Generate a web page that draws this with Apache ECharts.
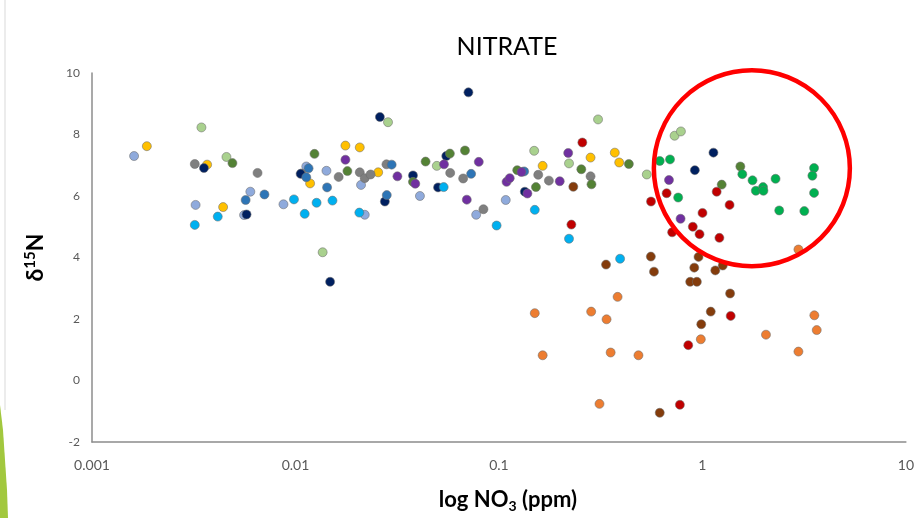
<!DOCTYPE html>
<html>
<head>
<meta charset="utf-8">
<script src="https://cdn.jsdelivr.net/npm/echarts@6/dist/echarts.min.js"></script>
<style>
  html, body { margin: 0; padding: 0; background: #fff; }
  #chart { width: 917px; height: 518px; }
</style>
</head>
<body>
<div id="chart"></div>
<script>
  // [NO3 ppm, d15N] per sample group
  const periwinkle = [[0.00161,7.30],[0.0060,6.14],[0.00323,5.71],[0.00559,5.38],[0.00873,5.73],[0.0113,6.96],[0.0142,6.82],[0.0210,6.36],[0.0219,5.39],[0.0409,6.00],[0.0773,5.39],[0.108,5.87]];
  const gold = [[0.00186,7.62],[0.00368,7.02],[0.00441,5.64],[0.0118,6.41],[0.0176,7.64],[0.0207,7.58],[0.0255,6.77],[0.164,6.98],[0.282,7.25],[0.371,7.41],[0.390,7.09]];
  const lightGreen = [[0.00345,8.23],[0.00458,7.27],[0.0136,4.17],[0.0285,8.40],[0.0495,6.98],[0.149,7.47],[0.221,7.06],[0.307,8.49],[0.533,6.70],[0.730,7.96],[0.784,8.10]];
  const gray = [[0.0032,7.04],[0.00651,6.75],[0.0107,6.73],[0.0163,6.62],[0.0207,6.77],[0.0219,6.58],[0.0234,6.70],[0.0280,7.03],[0.0576,6.75],[0.0667,6.57],[0.0839,5.57],[0.156,6.69],[0.176,6.50],[0.282,6.64]];
  const navy = [[0.00355,6.91],[0.00575,5.40],[0.0106,6.72],[0.0148,3.21],[0.0260,8.57],[0.0275,5.82],[0.0378,6.67],[0.0502,6.28],[0.0551,7.30],[0.0708,9.37],[0.134,6.14],[0.918,6.84],[1.133,7.41]];
  const oliveGreen = [[0.0049,7.07],[0.0124,7.37],[0.0180,6.81],[0.0378,6.46],[0.0436,7.12],[0.0574,7.38],[0.0681,7.48],[0.123,6.84],[0.152,6.29],[0.254,6.87],[0.285,6.38],[0.435,7.04],[1.244,6.37],[1.536,6.96]];
  const midBlue = [[0.00569,5.87],[0.00704,6.05],[0.0116,6.90],[0.0113,6.61],[0.0143,6.28],[0.0297,7.02],[0.0281,6.03],[0.0730,6.72],[0.133,6.80]];
  const cyan = [[0.0032,5.06],[0.00415,5.33],[0.00983,5.89],[0.0111,5.42],[0.0127,5.78],[0.0152,5.85],[0.0206,5.46],[0.0535,6.29],[0.0974,5.04],[0.150,5.55],[0.221,4.61],[0.394,3.96]];
  const purple = [[0.0176,7.18],[0.0317,6.64],[0.0388,6.40],[0.0537,7.03],[0.0695,5.88],[0.0796,7.11],[0.109,6.46],[0.113,6.58],[0.129,6.78],[0.138,6.08],[0.199,6.48],[0.219,7.40],[0.685,6.52],[0.781,5.26]];
  const darkRed = [[0.227,5.07],[0.257,7.74],[0.559,5.82],[0.667,6.09],[0.710,4.82],[0.897,5.00],[0.968,4.76],[1.001,5.45],[1.175,6.14],[1.212,4.64],[1.360,5.71],[1.377,2.10],[0.852,1.15],[0.775,-0.79]];
  const brown = [[0.232,6.30],[0.336,3.77],[0.558,4.03],[0.578,3.54],[0.957,4.02],[0.912,3.67],[1.157,3.58],[1.259,3.74],[0.871,3.21],[0.939,3.21],[1.368,2.83],[1.099,2.24],[0.987,1.83],[0.617,-1.05]];
  const orange = [[0.150,2.19],[0.164,0.82],[0.284,2.24],[0.338,1.99],[0.312,-0.76],[0.354,0.91],[0.383,2.72],[0.485,0.82],[0.982,1.34],[2.053,1.49],[2.964,4.26],[2.964,0.94],[3.549,2.12],[3.646,1.64]];
  const green = [[0.617,7.14],[0.693,7.19],[0.760,5.95],[1.571,6.71],[1.763,6.51],[1.986,6.29],[1.830,6.17],[1.995,6.17],[2.288,6.56],[2.385,5.53],[3.168,5.51],[3.538,6.91],[3.471,6.66],[3.538,6.10]];

  const xTicks = [0.001, 0.01, 0.1, 1, 10];
  const highlightCenter = [1.75, 6.9];

  const groups = [
    { name: 'periwinkle', data: periwinkle, color: '#8FAADC' },
    { name: 'gold', data: gold, color: '#FFC000' },
    { name: 'lightGreen', data: lightGreen, color: '#A9D18E' },
    { name: 'gray', data: gray, color: '#7F7F7F' },
    { name: 'navy', data: navy, color: '#002060' },
    { name: 'oliveGreen', data: oliveGreen, color: '#548235' },
    { name: 'midBlue', data: midBlue, color: '#2E75B6' },
    { name: 'cyan', data: cyan, color: '#00B0F0' },
    { name: 'purple', data: purple, color: '#7030A0' },
    { name: 'darkRed', data: darkRed, color: '#C00000' },
    { name: 'brown', data: brown, color: '#843C0C' },
    { name: 'orange', data: orange, color: '#ED7D31' },
    { name: 'green', data: green, color: '#00B050' },
  ];

  const chart = echarts.init(document.getElementById('chart'));

  const option = {
    animation: false,
    title: {
      text: 'NITRATE',
      left: 502,
      top: 29,
      textAlign: 'center',
      textStyle: { fontFamily: 'Lato', fontSize: 25, fontWeight: 'normal', color: '#000' },
    },
    grid: { left: 92, right: 8, top: 73, bottom: 75 },
    xAxis: {
      type: 'log',
      logBase: 10,
      min: 0.001,
      max: 10,
      name: '{t|log NO}{sub|3}{t| (ppm)}',
      nameLocation: 'middle',
      nameGap: 45,
      nameTextStyle: {
        padding: [0, 0, 0, 18],
        rich: {
          t: { fontFamily: 'Lato', fontSize: 22, fontWeight: 'bold', color: '#000' },
          sub: { fontFamily: 'Lato', fontSize: 14, fontWeight: 'bold', color: '#000', padding: [12, 0, 0, 0] },
        },
      },
      axisLine: { show: true, onZero: false, lineStyle: { color: '#8C8C8C', width: 1.5 } },
      axisTick: { show: false },
      splitLine: { show: false },
      axisLabel: {
        color: '#595959',
        fontFamily: 'Lato',
        fontSize: 14,
        margin: 16,
        formatter: (v) => {
          const hit = xTicks.find((t) => Math.abs(t - v) / t < 1e-6);
          return hit !== undefined ? String(hit) : '';
        },
      },
    },
    yAxis: {
      type: 'value',
      min: -2,
      max: 10,
      interval: 2,
      name: '{t|δ}{sup|15}{t|N}',
      nameLocation: 'middle',
      nameGap: 44,
      nameRotate: 90,
      nameTextStyle: {
        rich: {
          t: { fontFamily: 'Lato', fontSize: 23, fontWeight: 'bold', color: '#000' },
          sup: { fontFamily: 'Lato', fontSize: 15, fontWeight: 'bold', color: '#000', padding: [0, 0, 10, 0] },
        },
      },
      axisLine: { show: true, onZero: false, lineStyle: { color: '#8C8C8C', width: 1.5 } },
      axisTick: { show: false },
      splitLine: { show: false },
      axisLabel: { color: '#595959', fontFamily: 'Lato', fontSize: 12, margin: 12 },
    },
    series: groups.map((g) => ({
      name: g.name,
      type: 'scatter',
      data: g.data,
      symbolSize: 9,
      itemStyle: {
        color: g.color,
        borderColor: 'rgba(110,110,110,0.7)',
        borderWidth: 0.8,
        opacity: 1,
      },
    })),
  };

  chart.setOption(option);

  // highlight ring + slide edge decoration
  const c = chart.convertToPixel({ gridIndex: 0 }, highlightCenter);
  chart.setOption({
    graphic: [
      {
        type: 'circle',
        shape: { cx: c[0], cy: c[1], r: 98 },
        style: { fill: 'none', stroke: '#FF0000', lineWidth: 4.5 },
        z: 100,
      },
      {
        type: 'line',
        shape: { x1: 5, y1: 0, x2: 5, y2: 410 },
        style: { stroke: '#E6E6E6', lineWidth: 1.5 },
      },
      {
        type: 'polygon',
        shape: { points: [[0, 405], [3, 430], [5, 460], [7, 490], [8, 518], [0, 518]] },
        style: { fill: '#A2C83E' },
      },
    ],
  });
</script>
</body>
</html>
